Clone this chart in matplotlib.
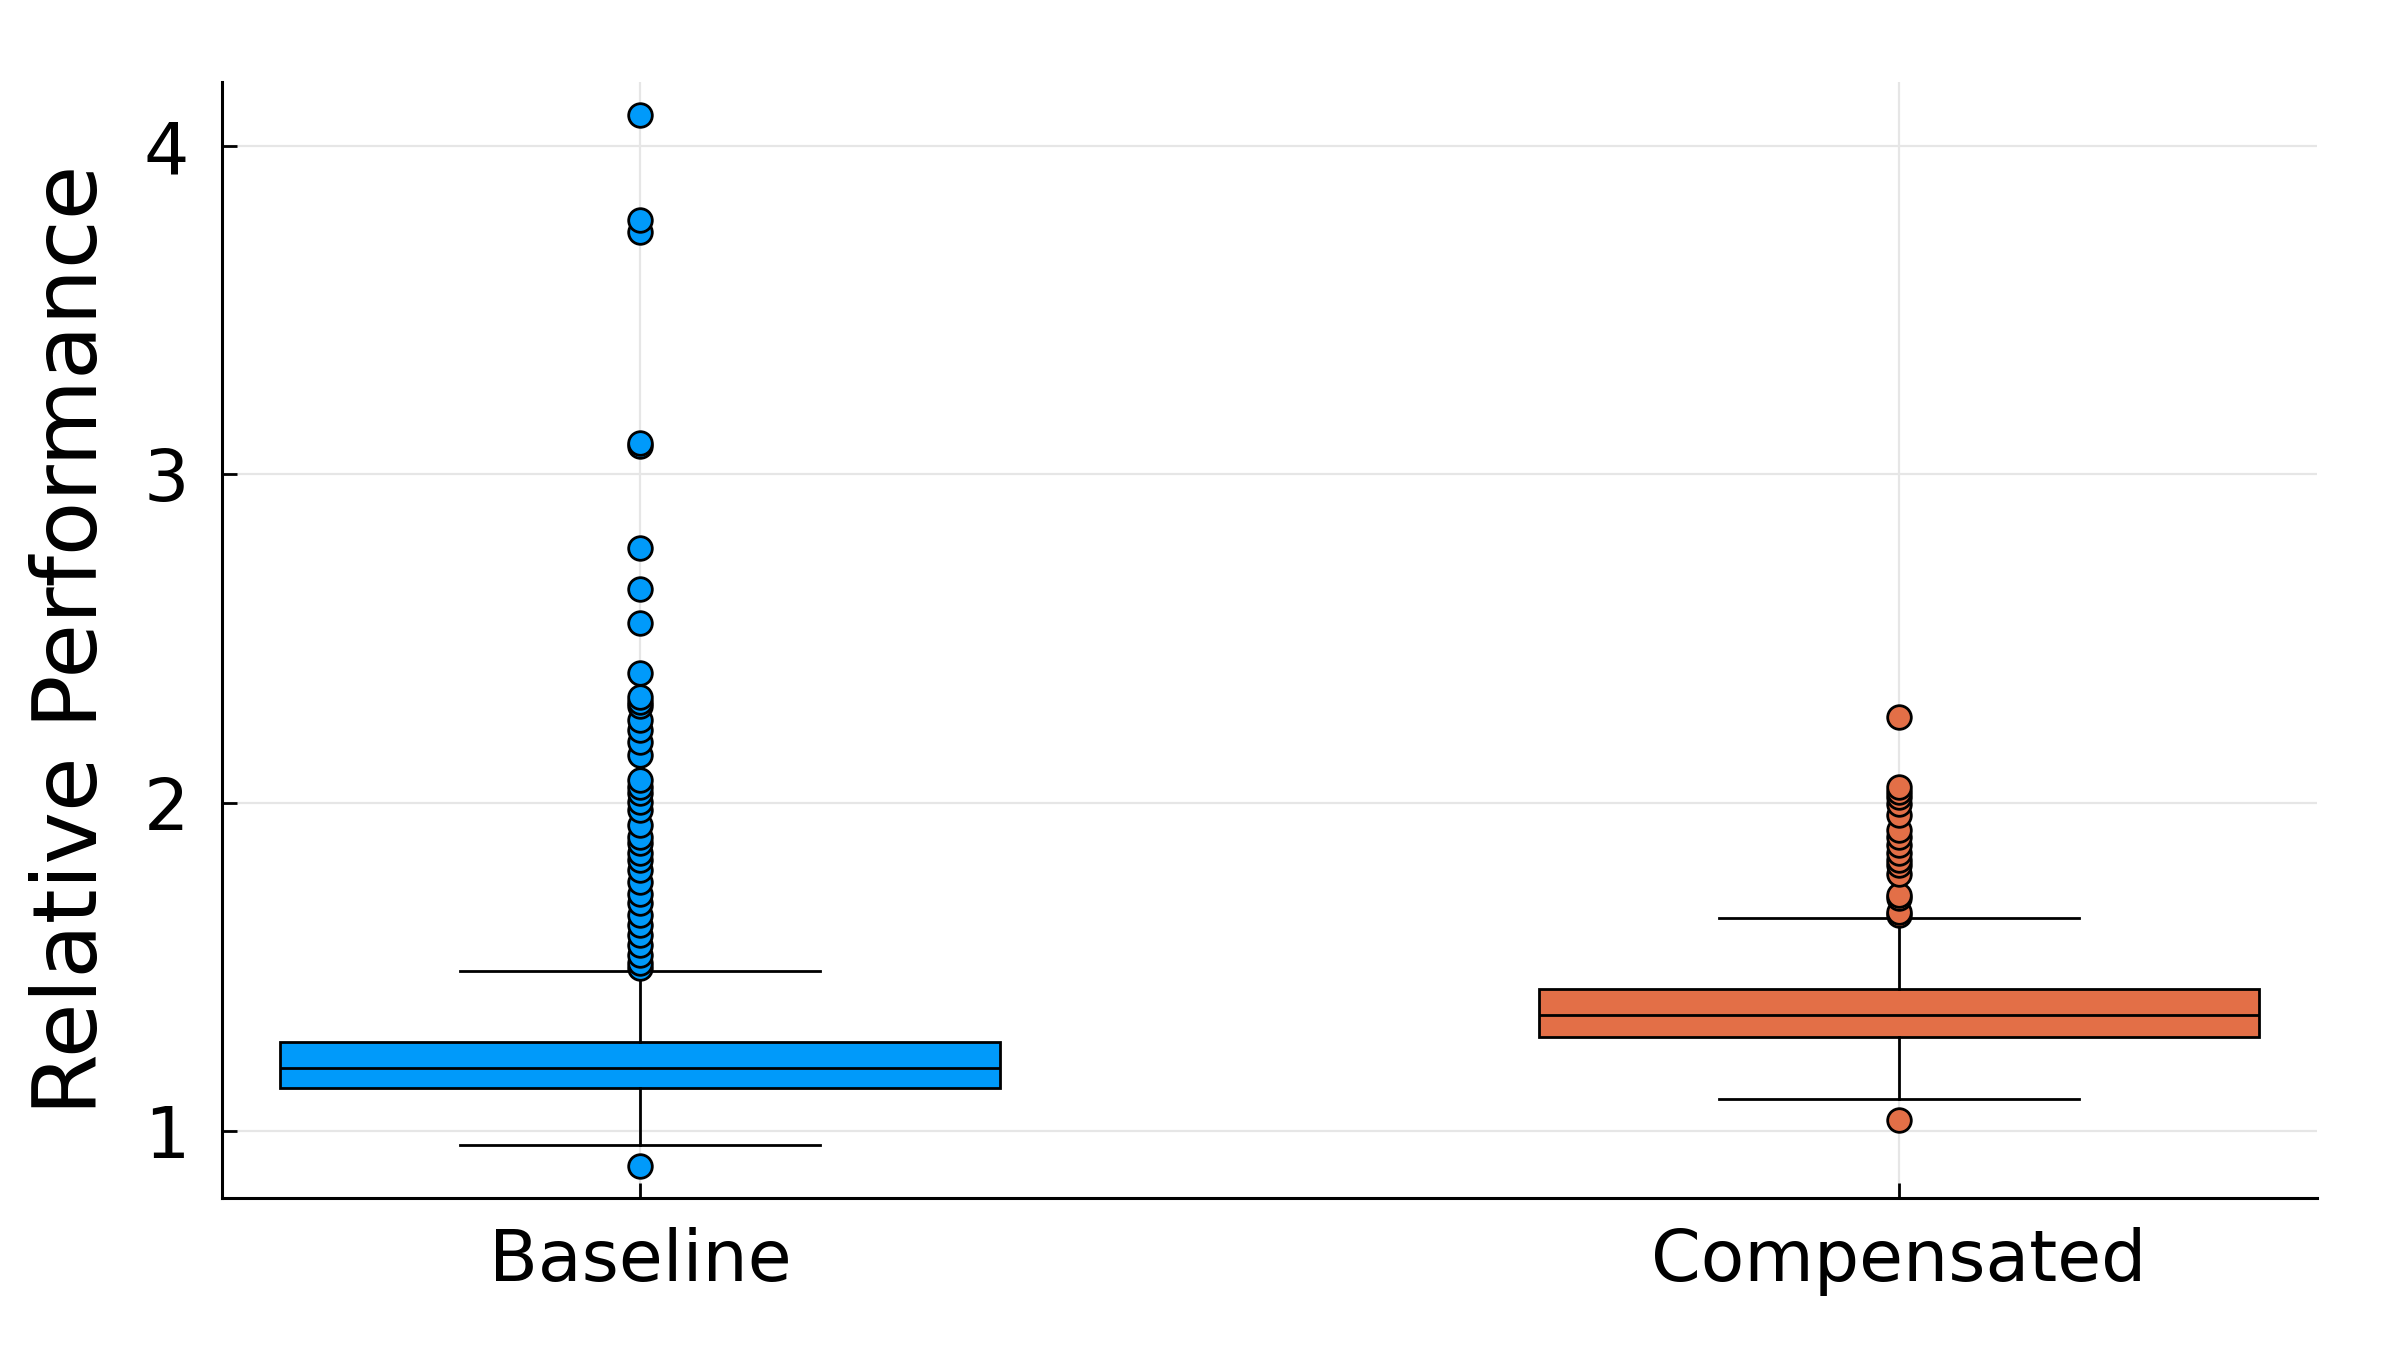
import matplotlib
matplotlib.use("Agg")
import matplotlib.pyplot as plt

# box statistics
groups = ["Baseline", "Compensated"]
colors = ["#009AFA", "#E36F47"]

medians = [1.192, 1.354]
q1s = [1.131, 1.286]
q3s = [1.273, 1.433]
whis_lo = [0.957, 1.099]
whis_hi = [1.487, 1.650]

baseline_fliers = [
    0.893, 1.496, 1.511, 1.537, 1.566, 1.597, 1.627, 1.658, 1.694, 1.724,
    1.760, 1.795, 1.826, 1.846, 1.877, 1.897, 1.932, 1.978, 2.003, 2.029,
    2.049, 2.069, 2.146, 2.186, 2.222, 2.252, 2.295, 2.308, 2.323, 2.394,
    2.547, 2.650, 2.775, 3.088, 3.096, 3.737, 3.775, 4.096,
]
compensated_fliers = [
    1.035, 1.658, 1.668, 1.709, 1.719, 1.785, 1.811, 1.826, 1.846, 1.872,
    1.897, 1.917, 1.963, 1.998, 2.019, 2.034, 2.049, 2.262,
]
fliers = [baseline_fliers, compensated_fliers]

stats = []
for i, name in enumerate(groups):
    stats.append(dict(label=name, med=medians[i], q1=q1s[i], q3=q3s[i],
                      whislo=whis_lo[i], whishi=whis_hi[i], fliers=fliers[i]))

fig = plt.figure(figsize=(12, 6.75), dpi=200)
ax = fig.add_axes([0.0927, 0.1126, 0.8727, 0.8269])

ax.grid(True, color="#e6e6e6", linewidth=0.8, zorder=0)
ax.set_axisbelow(True)

for i, s in enumerate(stats):
    ax.bxp([s], positions=[i + 1], widths=0.572, patch_artist=True,
           showfliers=True,
           boxprops=dict(facecolor=colors[i], edgecolor="black", linewidth=1.0),
           medianprops=dict(color="black", linewidth=1.0),
           whiskerprops=dict(color="black", linewidth=1.0),
           capprops=dict(color="black", linewidth=1.0),
           capwidths=0.286,
           flierprops=dict(marker="o", markerfacecolor=colors[i],
                           markeredgecolor="black", markeredgewidth=1.0,
                           markersize=8.5, linestyle="none"))

ax.set_xlim(0.668, 2.332)
ax.set_ylim(0.797, 4.196)
ax.set_xticks([1, 2])
ax.set_xticklabels(groups)
ax.set_yticks([1, 2, 3, 4])
ax.set_yticklabels(["1", "2", "3", "4"])

ax.tick_params(axis="both", direction="in", length=5.5, width=1.0,
               labelsize=25.7, color="black")
ax.tick_params(axis="x", pad=10.5)
ax.tick_params(axis="y", pad=12)

for side in ["top", "right"]:
    ax.spines[side].set_visible(False)
for side in ["left", "bottom"]:
    ax.spines[side].set_linewidth(1.1)

ax.set_ylabel("Relative Performance", fontsize=32, labelpad=10)

fig.savefig("out.png", dpi=200, facecolor="white")
